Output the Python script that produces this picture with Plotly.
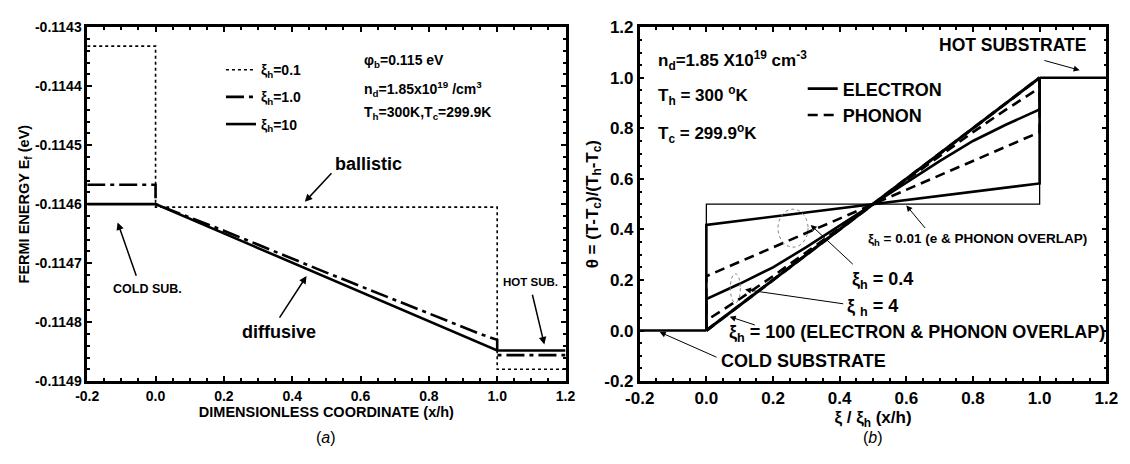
import plotly.graph_objects as go

FONT = "Liberation Sans, Arial, sans-serif"

# ---------------- Panel (a): Fermi energy ----------------
xa_tickvals = [-0.2, 0.0, 0.2, 0.4, 0.6, 0.8, 1.0, 1.2]
xa_ticktext = ["-0.2", "0.0", "0.2", "0.4", "0.6", "0.8", "1.0", "1.2"]
ya_tickvals = [-0.1149, -0.1148, -0.1147, -0.1146, -0.1145, -0.1144, -0.1143]
ya_ticktext = ["-0.1149", "-0.1148", "-0.1147", "-0.1146", "-0.1145", "-0.1144", "-0.1143"]

# xi_h = 0.1 (ballistic, dotted)
a_x01 = [-0.2, 0.0, 0.0, 1.0, 1.0, 1.2]
a_y01 = [-0.114332, -0.114332, -0.114605, -0.114605, -0.114880, -0.114880]
# xi_h = 1.0 (dash-dot)
a_x1 = [-0.2, 0.0, 0.0, 0.2, 0.5, 0.8, 0.95, 1.0, 1.0, 1.2]
a_y1 = [-0.114567, -0.114567, -0.114600, -0.114645, -0.114716, -0.114785,
        -0.114820, -0.114830, -0.114856, -0.114856]
# xi_h = 10 (diffusive, solid)
a_x10 = [-0.2, 0.0, 1.0, 1.0, 1.2]
a_y10 = [-0.114600, -0.114600, -0.114848, -0.114848, -0.114848]

# ---------------- Panel (b): dimensionless temperature ----------------
xb_tickvals = [-0.2, 0.0, 0.2, 0.4, 0.6, 0.8, 1.0, 1.2]
xb_ticktext = ["-0.2", "0.0", "0.2", "0.4", "0.6", "0.8", "1.0", "1.2"]
yb_tickvals = [-0.2, 0.0, 0.2, 0.4, 0.6, 0.8, 1.0, 1.2]
yb_ticktext = ["-0.2", "0.0", "0.2", "0.4", "0.6", "0.8", "1.0", "1.2"]

b_cold_x = [-0.2, 0.0]
b_cold_y = [0.0, 0.0]
b_hot_x = [1.0, 1.2]
b_hot_y = [1.0, 1.0]
# xi_h = 0.01 (electron & phonon overlap)
b_x001 = [0.0, 0.0, 1.0, 1.0]
b_y001 = [0.0, 0.5, 0.5, 1.0]
# xi_h = 0.4
b_x04 = [0.0, 0.0, 1.0, 1.0]
b_y04_e = [0.0, 0.418, 0.582, 1.0]
b_y04_p = [0.0, 0.215, 0.785, 1.0]
# xi_h = 4
b_x4 = [0.0, 0.0, 0.1, 0.2, 0.3, 0.4, 0.5, 0.6, 0.7, 0.8, 0.9, 1.0, 1.0]
b_y4_e = [0.0, 0.125, 0.185, 0.250, 0.330, 0.415, 0.500, 0.585, 0.670, 0.750, 0.815, 0.875, 1.0]
b_y4_p = [0.0, 0.040, 0.125, 0.215, 0.310, 0.405, 0.500, 0.595, 0.690, 0.785, 0.875, 0.960, 1.0]
# xi_h = 100 (electron & phonon overlap)
b_x100 = [0.0, 1.0]
b_y100 = [0.0, 1.0]

# dotted ellipses marking curve pairs: [x0, x1, y0, y1]
ellipse_04 = [0.215, 0.305, 0.33, 0.48]
ellipse_4 = [0.072, 0.102, 0.11, 0.225]

fig = go.Figure()

# panel (a) traces
fig.add_trace(go.Scatter(x=a_x01, y=a_y01, mode="lines", name="ξ<sub>h</sub>=0.1",
                         line=dict(color="black", width=1.6, dash="dot"),
                         legendgroup="g1", xaxis="x", yaxis="y", legend="legend"))
fig.add_trace(go.Scatter(x=a_x1, y=a_y1, mode="lines", name="ξ<sub>h</sub>=1.0",
                         line=dict(color="black", width=2.6, dash="18px,5px,4px,5px"),
                         legendgroup="g2", xaxis="x", yaxis="y", legend="legend"))
fig.add_trace(go.Scatter(x=a_x10, y=a_y10, mode="lines", name="ξ<sub>h</sub>=10",
                         line=dict(color="black", width=2.6),
                         legendgroup="g3", xaxis="x", yaxis="y", legend="legend"))

# panel (b) traces
fig.add_trace(go.Scatter(x=b_cold_x, y=b_cold_y, mode="lines", showlegend=False,
                         line=dict(color="black", width=2.6), xaxis="x2", yaxis="y2"))
fig.add_trace(go.Scatter(x=b_hot_x, y=b_hot_y, mode="lines", showlegend=False,
                         line=dict(color="black", width=2.6), xaxis="x2", yaxis="y2"))
fig.add_trace(go.Scatter(x=b_x001, y=b_y001, mode="lines", showlegend=False,
                         line=dict(color="black", width=1.3), xaxis="x2", yaxis="y2"))
fig.add_trace(go.Scatter(x=b_x04, y=b_y04_e, mode="lines", name="ELECTRON",
                         line=dict(color="black", width=2.6), xaxis="x2", yaxis="y2",
                         legend="legend2"))
fig.add_trace(go.Scatter(x=b_x04, y=b_y04_p, mode="lines", name="PHONON",
                         line=dict(color="black", width=2.6, dash="10px,6px"),
                         xaxis="x2", yaxis="y2", legend="legend2"))
fig.add_trace(go.Scatter(x=b_x4, y=b_y4_e, mode="lines", showlegend=False,
                         line=dict(color="black", width=2.6), xaxis="x2", yaxis="y2"))
fig.add_trace(go.Scatter(x=b_x4, y=b_y4_p, mode="lines", showlegend=False,
                         line=dict(color="black", width=2.6, dash="10px,6px"),
                         xaxis="x2", yaxis="y2"))
fig.add_trace(go.Scatter(x=b_x100, y=b_y100, mode="lines", showlegend=False,
                         line=dict(color="black", width=3.0), xaxis="x2", yaxis="y2"))
fig.add_trace(go.Scatter(x=b_x100, y=b_y100, mode="lines", showlegend=False,
                         line=dict(color="black", width=3.0, dash="10px,6px"),
                         xaxis="x2", yaxis="y2"))

axis_common = dict(showline=True, linewidth=2.5, linecolor="black", mirror="ticks",
                   ticks="inside", ticklen=5, tickwidth=2, tickcolor="black",
                   showgrid=False, zeroline=False)

fig.update_layout(
    width=1130, height=464,
    margin=dict(l=0, r=0, t=0, b=0),
    paper_bgcolor="white", plot_bgcolor="white",
    font=dict(family=FONT, color="black"),
    xaxis=dict(domain=[74 / 1130, 564 / 1130], range=[-0.2, 1.2],
               tickvals=xa_tickvals, ticktext=xa_ticktext,
               tickfont=dict(size=14, weight="bold"),
               minor=dict(dtick=0.05, ticks="inside", ticklen=3, tickwidth=1.5, tickcolor="black"),
               title=dict(text="DIMENSIONLESS COORDINATE (x/h)",
                          font=dict(size=14.5, weight="bold"), standoff=5),
               anchor="y", **axis_common),
    yaxis=dict(domain=[1 - 388 / 464, 1 - 19 / 464], range=[-0.1149, -0.1143],
               tickvals=ya_tickvals, ticktext=ya_ticktext,
               tickfont=dict(size=14, weight="bold"),
               minor=dict(dtick=0.00002, ticks="inside", ticklen=3, tickwidth=1.5, tickcolor="black"),
               title=dict(text="FERMI ENERGY E<sub>f</sub> (eV)",
                          font=dict(size=14.5, weight="bold"), standoff=2),
               anchor="x", **axis_common),
    xaxis2=dict(domain=[640 / 1130, 1118 / 1130], range=[-0.2, 1.2],
                tickvals=xb_tickvals, ticktext=xb_ticktext,
                tickfont=dict(size=17, weight="bold"),
                minor=dict(dtick=0.05, ticks="inside", ticklen=3, tickwidth=1.5, tickcolor="black"),
                title=dict(text="ξ / ξ<sub>h</sub> (x/h)",
                           font=dict(size=17, weight="bold"), standoff=0),
                anchor="y2", **axis_common),
    yaxis2=dict(domain=[1 - 388 / 464, 1 - 19 / 464], range=[-0.2, 1.2],
                tickvals=yb_tickvals, ticktext=yb_ticktext,
                tickfont=dict(size=17, weight="bold"),
                minor=dict(dtick=0.05, ticks="inside", ticklen=3, tickwidth=1.5, tickcolor="black"),
                title=dict(text="θ = (T-T<sub>c</sub>)/(T<sub>h</sub>-T<sub>c</sub>)",
                           font=dict(size=17, weight="bold"), standoff=2),
                anchor="x2", **axis_common),
    legend=dict(x=211 / 1130, y=1 - 47 / 464, xanchor="left", yanchor="top",
                bgcolor="rgba(0,0,0,0)", borderwidth=0, tracegroupgap=6,
                font=dict(size=14, weight="bold", family=FONT)),
    legend2=dict(x=807 / 1130, y=1 - 64 / 464, xanchor="left", yanchor="top",
                 bgcolor="rgba(0,0,0,0)", borderwidth=0,
                 font=dict(size=18, weight="bold", family=FONT)),
)

ann = []


def txt(text, x, y, xref, yref, size, xanchor="center", weight="bold", style="normal"):
    ann.append(dict(text=text, x=x, y=y, xref=xref, yref=yref, showarrow=False,
                    xanchor=xanchor, yanchor="middle",
                    font=dict(size=size, weight=weight, style=style, family=FONT, color="black")))


def arrow(x, y, ax, ay, xref, yref, width=1.5, head=2, size=1.0):
    ann.append(dict(text="", x=x, y=y, ax=ax, ay=ay, xref=xref, yref=yref,
                    axref=xref, ayref=yref, showarrow=True, arrowhead=head,
                    arrowsize=size, arrowwidth=width, arrowcolor="black"))


# panel (a) annotations
txt("φ<sub>b</sub>=0.115 eV", 0.605, -0.114358, "x", "y", 14, "left")
txt("n<sub>d</sub>=1.85x10<sup>19</sup> /cm<sup>3</sup>", 0.605, -0.114405, "x", "y", 14, "left")
txt("T<sub>h</sub>=300K,T<sub>c</sub>=299.9K", 0.605, -0.114445, "x", "y", 14, "left")
txt("ballistic", 0.624, -0.114532, "x", "y", 18)
arrow(0.437, -0.114596, 0.519, -0.114545, "x", "y")
txt("COLD SUB.", -0.023, -0.114743, "x", "y", 12.5)
arrow(-0.111, -0.114631, -0.055, -0.114724, "x", "y")
txt("diffusive", 0.362, -0.114817, "x", "y", 18)
arrow(0.442, -0.114722, 0.360, -0.114795, "x", "y")
txt("HOT SUB.", 1.097, -0.114732, "x", "y", 11.5)
arrow(1.138, -0.114838, 1.102, -0.114751, "x", "y")

# panel (b) annotations
txt("n<sub>d</sub>=1.85 X10<sup>19</sup> cm<sup>-3</sup>", -0.15, 1.07, "x2", "y2", 17, "left")
txt("T<sub>h</sub> = 300 <sup>o</sup>K", -0.15, 0.93, "x2", "y2", 17, "left")
txt("T<sub>c</sub> = 299.9<sup>o</sup>K", -0.15, 0.78, "x2", "y2", 17, "left")
txt("HOT SUBSTRATE", 0.92, 1.13, "x2", "y2", 17.5)
arrow(1.12, 1.03, 1.01, 1.07, "x2", "y2", width=1, head=2, size=1.2)
txt("ξ<sub>h</sub> = 0.01 (e & PHONON OVERLAP)", 0.48, 0.36, "x2", "y2", 13.5, "left")
arrow(0.60, 0.495, 0.66, 0.40, "x2", "y2", width=1, head=2, size=1.2)
txt("ξ<sub>h</sub> = 0.4", 0.53, 0.20, "x2", "y2", 18)
arrow(0.313, 0.418, 0.444, 0.257, "x2", "y2", width=1, head=2, size=1.2)
txt("ξ <sub>h</sub> = 4", 0.50, 0.093, "x2", "y2", 18)
arrow(0.116, 0.162, 0.415, 0.105, "x2", "y2", width=1, head=2, size=1.2)
txt("ξ<sub>h</sub> = 100 (ELECTRON & PHONON OVERLAP)", 0.062, -0.013, "x2", "y2", 18, "left")
arrow(0.07, 0.055, 0.15, 0.02, "x2", "y2", width=1, head=2, size=1.2)
txt("COLD SUBSTRATE", 0.29, -0.12, "x2", "y2", 18)
arrow(-0.14, -0.006, 0.035, -0.108, "x2", "y2", width=1, head=2, size=1.2)

# panel labels
txt("(<i>a</i>)", (74 + 564) / 2 / 1130, 1 - 447 / 464, "paper", "paper", 16, weight="normal")
txt("(<i>b</i>)", (640 + 1118) / 2 / 1130, 1 - 447 / 464, "paper", "paper", 16, weight="normal")

fig.update_layout(annotations=ann)

for e in (ellipse_04, ellipse_4):
    fig.add_shape(type="circle", xref="x2", yref="y2", x0=e[0], x1=e[1], y0=e[2], y1=e[3],
                  line=dict(color="gray", width=1, dash="dot"))

fig.write_html("out.html")
